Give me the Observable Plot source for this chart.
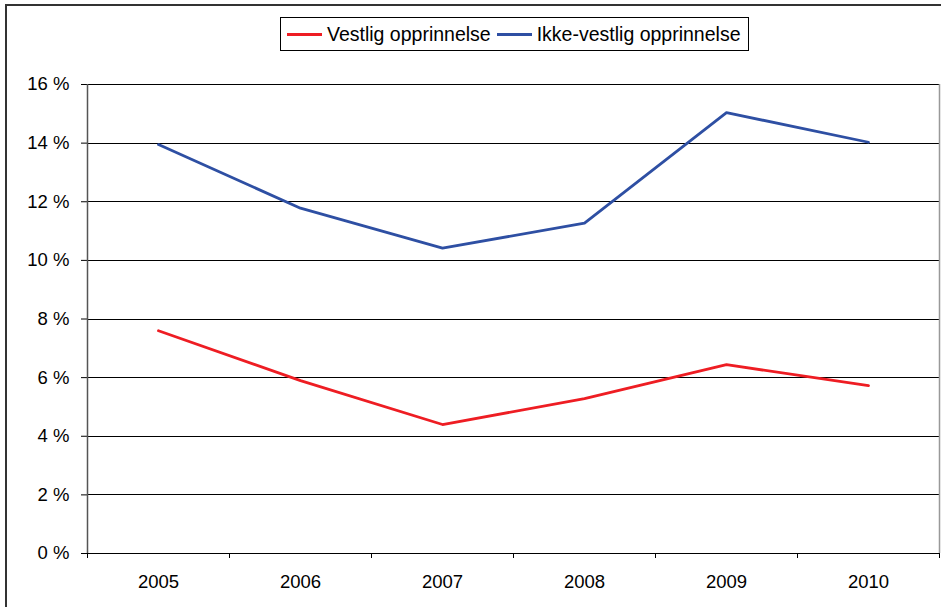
<!DOCTYPE html>
<html>
<head>
<meta charset="utf-8">
<script src="https://cdn.jsdelivr.net/npm/d3@7"></script>
<script src="https://cdn.jsdelivr.net/npm/@observablehq/plot@0.6"></script>
<style>
  html, body { margin: 0; padding: 0; background: #fff; }
  body { width: 941px; height: 607px; position: relative; overflow: hidden; font-family: "Liberation Sans", Arial, sans-serif; }
  #frame { position: absolute; left: 5px; top: 4px; width: 960px; height: 640px; border: 2px solid #333; box-sizing: border-box; }
  #chart { position: absolute; left: 0; top: 0; }
  #legend { position: absolute; left: 280px; top: 17px; height: 34px; border: 1px solid #000; background: #fff; box-sizing: border-box; display: flex; align-items: center; padding: 0 8px 0 6px; font-size: 19.5px; color: #000; white-space: nowrap; }
  #legend .sw { display: inline-block; width: 35px; height: 3px; margin-right: 5px; }
  #legend .item { display: flex; align-items: center; margin-right: 6px; }
  #legend .item:last-child { margin-right: 0; }
</style>
</head>
<body>
<div id="frame"></div>
<div id="chart"></div>
<div id="legend"></div>
<script>
const years = [2005, 2006, 2007, 2008, 2009, 2010];
const seriesNames = ["Vestlig opprinnelse", "Ikke-vestlig opprinnelse"];
const seriesColors = ["#ee1d23", "#2e4fa3"];
const vestlig = [7.6, 5.9, 4.4, 5.28, 6.44, 5.73];
const ikkeVestlig = [13.95, 11.78, 10.42, 11.27, 15.04, 14.03];
const yTicks = [0, 2, 4, 6, 8, 10, 12, 14, 16];

const data = [];
years.forEach((y, i) => {
  data.push({ year: y, value: vestlig[i], series: seriesNames[0] });
  data.push({ year: y, value: ikkeVestlig[i], series: seriesNames[1] });
});
const boundaries = [years[0] - 0.5, ...years.map(y => y + 0.5)];

const chart = Plot.plot({
  width: 941,
  height: 607,
  marginLeft: 87,
  marginRight: 2,
  marginTop: 84,
  marginBottom: 54,
  style: { fontFamily: "Liberation Sans, Arial, sans-serif", fontSize: "18.5px", color: "#000", background: "transparent", overflow: "visible" },
  x: { domain: [boundaries[0], boundaries[boundaries.length - 1]], ticks: boundaries, tickSize: 5, tickFormat: () => "", label: null },
  y: { domain: [0, 16], ticks: yTicks, tickSize: 6, tickPadding: 12, tickFormat: d => d + " %", label: null },
  color: { domain: seriesNames, range: seriesColors },
  marks: [
    Plot.ruleY(yTicks, { stroke: "#000", strokeWidth: 1, shapeRendering: "crispEdges" }),
    Plot.ruleX([boundaries[0]], { stroke: "#555", strokeWidth: 1.5 }),
    Plot.ruleX([boundaries[boundaries.length - 1]], { stroke: "#999", strokeWidth: 1.5 }),
    Plot.line(data, { x: "year", y: "value", z: "series", stroke: "series", strokeWidth: 2.8, strokeLinejoin: "round" }),
    Plot.text(years, { x: d => d, y: () => 0, text: d => String(d), dy: 29, fontSize: 18.5, fill: "#000" })
  ]
});
document.getElementById("chart").appendChild(chart);

const legend = document.getElementById("legend");
seriesNames.forEach((n, i) => {
  const item = document.createElement("span");
  item.className = "item";
  const sw = document.createElement("span");
  sw.className = "sw";
  sw.style.background = seriesColors[i];
  item.appendChild(sw);
  item.appendChild(document.createTextNode(n));
  legend.appendChild(item);
});
</script>
</body>
</html>
